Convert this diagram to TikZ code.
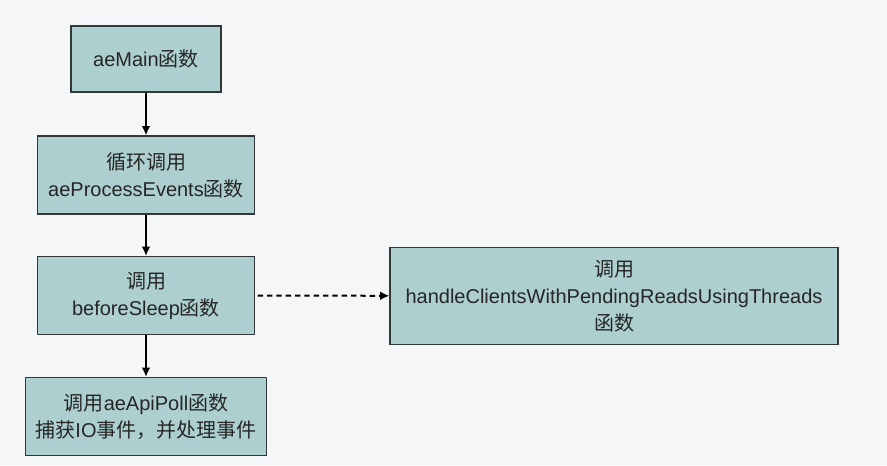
\documentclass[tikz,border=0pt]{standalone}
\usepackage{fontspec}
\setmainfont{Liberation Sans}
\newfontfamily\cjk{Noto Sans CJK SC}
\usetikzlibrary{arrows.meta}
\definecolor{bgc}{RGB}{245,246,248}
\definecolor{boxfill}{RGB}{174,207,207}
\definecolor{boxline}{RGB}{50,55,55}
\tikzset{
  px/.style={x=0.75pt,y=-0.75pt},
  box/.style n args={2}{draw=boxline, fill=boxfill, line width=0.8pt, rectangle,
    minimum width=#1*0.75pt, minimum height=#2*0.75pt, inner sep=0pt,
    align=center, font=\fontsize{15}{20.25}\selectfont, text=black!85},
  arr/.style={line width=1.5pt, -{Latex[length=7pt,width=6.5pt]}},
  darr/.style={line width=1.5pt, dash pattern=on 4pt off 3pt, -{Latex[length=7pt,width=6.5pt]}}
}
\begin{document}
\begin{tikzpicture}[px]
\fill[bgc] (0,0) rectangle (887,465);
\useasboundingbox (0,0) rectangle (887,465);
\node[box={150}{66}] (b1) at (146,59) {aeMain{\cjk 函数}};
\node[box={217}{78}] (b2) at (146,175) {{\cjk 循环调用}\\aeProcessEvents{\cjk 函数}};
\node[box={217}{78}] (b3) at (146,295.5) {{\cjk 调用}\\beforeSleep{\cjk 函数}};
\node[box={241}{78}] (b4) at (146,416.5) {{\cjk 调用}aeApiPoll{\cjk 函数}\\{\cjk 捕获}IO{\cjk 事件，并处理事件}};
\node[box={448}{97}] (b5) at (614,295.8) {{\cjk 调用}\\handleClientsWithPendingReadsUsingThreads\\{\cjk 函数}};
\draw[arr] (b1) -- (b2);
\draw[arr] (b2) -- (b3);
\draw[arr] (b3) -- (b4);
\draw[darr] ([xshift=2pt]b3.east) -- (b5.west);
\end{tikzpicture}
\end{document}
